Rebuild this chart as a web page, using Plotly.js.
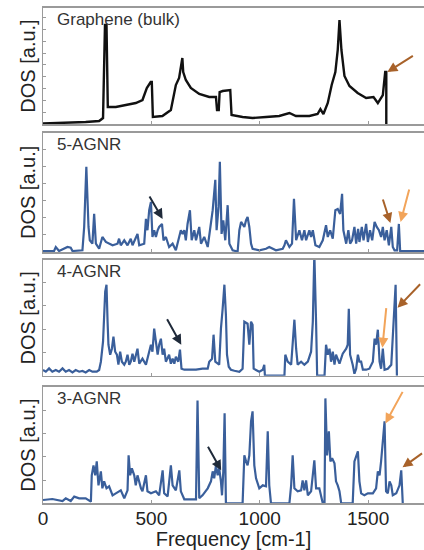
<!DOCTYPE html>
<html>
<head>
<meta charset="utf-8">
<script src="https://cdn.plot.ly/plotly-3.0.1.min.js"></script>
<style>html,body{margin:0;padding:0;background:#fff;overflow:hidden}</style>
</head>
<body>
<div id="chart" style="width:424px;height:550px"></div>
<script>
// ---- data (frequency in cm-1, DOS in arbitrary units) ----
const panelLabels = ["Graphene (bulk)", "5-AGNR", "4-AGNR", "3-AGNR"];
const xTickVals = [0, 500, 1000, 1500];
const xTickText = ["0", "500", "1000", "1500"];

const grapheneFreq = [0,105,197,259,277,286,293,299,336,382,428,459,479,497,502,507,551,590,613,628,638,643,647,659,682,721,767,798,803,811,815,829,864,870,921,967,1029,1090,1137,1167,1229,1267,1280,1294,1314,1332,1349,1360,1368,1377,1391,1414,1452,1491,1525,1545,1568,1579,1584,1584];
const grapheneDos  = [0.5,1,2,3,6,99,99,17,17,19,21,24,36,42,42,7,8,14,39,46,61,66,52,44,36,30,27,27,14,14,32,33,34,9,7,6,7,8,11,8,8,10,15,10,21,39,52,74,104,74,48,38,31,26,27,21,29,52,52,0];

const agnr5Freq = [0,51,59,74,113,128,136,182,190,200,210,216,228,236,244,259,274,290,321,344,351,359,375,390,405,413,436,444,467,475,482,490,498,505,513,521,529,536,549,556,567,582,598,613,636,644,652,659,667,678,686,698,706,721,729,744,760,767,783,795,801,810,816,824,832,841,852,860,875,898,906,914,929,937,944,952,960,967,998,1029,1044,1075,1106,1114,1121,1137,1149,1158,1168,1183,1195,1206,1214,1229,1237,1245,1257,1275,1291,1306,1314,1325,1337,1349,1360,1371,1380,1386,1399,1409,1417,1426,1437,1445,1454,1460,1471,1479,1491,1499,1509,1519,1530,1540,1550,1560,1568,1576,1586,1596,1607,1614,1622,1634,1642,1648,1760];
const agnr5Dos  = [1,1,5,1,5,4.3,1,1.7,25,85,25,11.7,8.3,38,8.3,3.3,15,10,6.7,8.3,13.3,6.7,11.7,6.7,13.3,6.7,18,6.7,8.3,33,21.7,41.7,50,15,21.7,15,21.7,25,28,11.7,15,5,8.3,1.7,21.7,18,21.7,11.7,28,41.7,11.7,21.7,11.7,25,8.3,15,5,18,41.7,72,21.7,45,90,18,31.7,11.7,46.7,8.3,1.7,0.5,21.7,30,25,31.7,35,25,8.3,3.3,1.7,3.3,5,1.7,3.3,6.7,11.7,5,8.3,53,11.7,21.7,11.7,21.7,11.7,21.7,15,21.7,6.7,5,11.7,26.7,15,21.7,13.3,41.7,43,38,58,21.7,8.3,21.7,8.3,11.7,25,8.3,23,10,25,11.7,28,10,21.7,11.7,30,25,21.7,15,25,11.7,21.7,6.7,25,5,1.7,1.7,28,1,1];

const agnr4Freq = [0,13,28,43,59,74,90,105,120,136,151,167,182,197,213,228,248,259,267,277,287,293,298,302,310,318,325,333,341,348,356,364,375,382,390,398,405,413,421,428,436,444,459,475,490,498,505,513,521,529,536,544,552,559,567,582,590,598,606,613,624,632,639,652,675,706,736,760,767,780,787,795,813,821,829,837,844,849,857,867,883,906,921,929,944,952,960,967,972,983,998,1014,1021,1024,1114,1118,1129,1145,1152,1160,1168,1175,1191,1206,1222,1237,1245,1252,1260,1265,1299,1306,1314,1322,1329,1337,1345,1352,1368,1383,1399,1406,1411,1417,1429,1437,1445,1453,1460,1468,1476,1491,1506,1522,1530,1537,1545,1553,1560,1568,1576,1591,1607,1614,1627,1633];
const agnr4Dos  = [5.7,4,7.3,4,5.7,4,7.3,4,5.7,3.3,5.7,4,4.7,3.3,5.7,4,4,5.7,14,34,84,91,54,31,21,27,39,24,21,11,24,14,11,14,21,11,14,22,14,21,27,12,17,11,26,31,24,47,34,21,31,37,21,27,14,21,12,17,12,19,14,26,7,6,6,6,7,7,14,17,41,14,11,47,67,91,61,21,9,6,5,4,7,54,52,31,54,51,7,6,4,6,11,0,0,21,14,11,37,56,27,11,14,11,14,24,54,122,54,0,0,31,21,27,14,24,11,21,12,22,27,31,67,21,11,2,7,21,14,14,6,6,7,14,37,31,46,14,7,27,6,7,11,37,91,0];

const agnr3Freq = [0,43,90,105,128,144,167,197,221,225,233,241,248,256,267,274,282,293,305,321,336,359,375,390,395,402,410,421,428,436,452,459,475,482,498,521,536,552,559,575,590,598,613,629,636,652,706,713,721,736,760,775,783,790,798,806,813,821,826,832,838,844,921,929,937,944,952,960,967,975,983,998,1014,1029,1037,1044,1052,1137,1145,1152,1160,1175,1191,1198,1206,1214,1222,1237,1252,1260,1275,1291,1299,1303,1311,1319,1326,1334,1345,1352,1360,1368,1376,1429,1437,1445,1453,1460,1468,1483,1499,1522,1537,1545,1553,1560,1568,1576,1583,1591,1599,1607,1614,1630,1645,1653,1660];
const agnr3Dos  = [3.3,4.3,2.3,5,2.3,6.7,5,5,1.7,28,38,28,42,18,32,15,22,15,17,8,10,13,5,13,48,28,35,28,18,28,15,12,28,12,10,12,8,33,10,7,38,18,13,33,12,4,4,103,5,8,15,22,32,25,38,28,35,22,8,32,90,0,0,48,42,38,48,82,92,38,25,15,18,17,72,18,0,0,18,48,15,12,13,23,13,23,8,12,43,15,15,0,0,105,48,72,42,45,40,22,18,12,0,0,42,48,52,22,10,8,10,10,15,32,28,42,62,82,12,10,22,18,8,10,18,33,0];

const series = [
  {freq: grapheneFreq, dos: grapheneDos, color: "#111111", width: 2.4, top: 116},
  {freq: agnr5Freq, dos: agnr5Dos, color: "#3a5f9b", width: 2.2, top: 119},
  {freq: agnr4Freq, dos: agnr4Dos, color: "#3a5f9b", width: 2.2, top: 115.7},
  {freq: agnr3Freq, dos: agnr3Dos, color: "#3a5f9b", width: 2.2, top: 116.7}
];

// ---- layout ----
const W = 424, H = 550, L = 43;
const domains = [[0.7745, 0.9855], [0.5418, 0.7587], [0.3169, 0.5273], [0.0849, 0.2969]];
const yTickSteps = [11.8, 17, 23.3, 23.3];
const xMax = 1758;
const frame = "#9a9a9a";
const font = "Liberation Sans, Arial, sans-serif";

const traces = [];
const layout = {
  width: W, height: H,
  margin: {l: L, r: 0, t: 0, b: 0},
  paper_bgcolor: "#fff", plot_bgcolor: "#fff",
  showlegend: false,
  font: {family: font, color: "#333"},
  annotations: []
};

series.forEach((s, i) => {
  const n = i + 1;
  const xa = n === 1 ? "x" : "x" + n;
  const ya = n === 1 ? "y" : "y" + n;
  traces.push({
    x: s.freq, y: s.dos, xaxis: xa, yaxis: ya,
    type: "scatter", mode: "lines",
    line: {color: s.color, width: s.width},
    hoverinfo: "skip"
  });
  const tv = [];
  for (let k = 1; k * yTickSteps[i] < s.top - 4; k++) tv.push(k * yTickSteps[i]);
  layout["xaxis" + (n === 1 ? "" : n)] = {
    domain: [0, 1], anchor: ya, range: [0, xMax],
    showline: true, mirror: true, linecolor: frame, linewidth: 1.5,
    ticks: "inside", ticklen: 3, tickcolor: frame, tickvals: xTickVals.slice(1),
    showgrid: false, zeroline: false,
    showticklabels: n === 4,
    tickfont: {size: 19, color: "#222"},
    ticklabelstandoff: -3,
    title: n === 4 ? {text: "Frequency [cm-1]", font: {size: 20, color: "#222"}, standoff: 1} : {text: ""}
  };
  if (n === 4) {
    layout.xaxis4.tickvals = xTickVals;
    layout.xaxis4.ticktext = xTickText;
  }
  layout["yaxis" + (n === 1 ? "" : n)] = {
    domain: domains[i], anchor: xa, range: [0, s.top],
    showline: true, mirror: false, linecolor: frame, linewidth: 1.5,
    ticks: "inside", ticklen: 3, tickcolor: frame, tickvals: tv,
    showticklabels: false, showgrid: false, zeroline: false,
    title: {text: "DOS [a.u.]", font: {size: 20, color: "#222"}, standoff: 0}
  };
  layout.annotations.push({
    xref: "paper", yref: "paper",
    x: 12 / (W - L), y: domains[i][1] - 12 / H,
    xanchor: "left", yanchor: "middle",
    text: panelLabels[i], showarrow: false,
    font: {size: 17, color: "#333"}
  });
});

// ---- arrows ----
const brown = "#a8622a", light = "#f2a45a", dark = "#1f2a3a";
const arrows = [
  {p: 1, x: 1589, y: 52, ax: 27, ay: -17, c: brown},
  {p: 2, x: 552, y: 33, ax: -14, ay: -24, c: dark},
  {p: 2, x: 1603, y: 29, ax: -8, ay: -25, c: brown},
  {p: 2, x: 1650, y: 30, ax: 9, ay: -34, c: light},
  {p: 3, x: 638, y: 31, ax: -15, ay: -27, c: dark},
  {p: 3, x: 1566, y: 28, ax: 4, ay: -41, c: light},
  {p: 3, x: 1636, y: 68, ax: 24, ay: -25, c: brown},
  {p: 4, x: 822, y: 33, ax: -14, ay: -25, c: dark},
  {p: 4, x: 1580, y: 80, ax: 18, ay: -33, c: light},
  {p: 4, x: 1659, y: 36, ax: 21, ay: -15, c: brown}
];
arrows.forEach(a => {
  layout.annotations.push({
    xref: a.p === 1 ? "x" : "x" + a.p, yref: a.p === 1 ? "y" : "y" + a.p,
    x: a.x, y: a.y, ax: a.ax, ay: a.ay, text: "",
    showarrow: true, arrowhead: 2, arrowsize: 1, arrowwidth: 2, arrowcolor: a.c
  });
});

Plotly.newPlot("chart", traces, layout, {staticPlot: true, displayModeBar: false});
</script>
</body>
</html>
